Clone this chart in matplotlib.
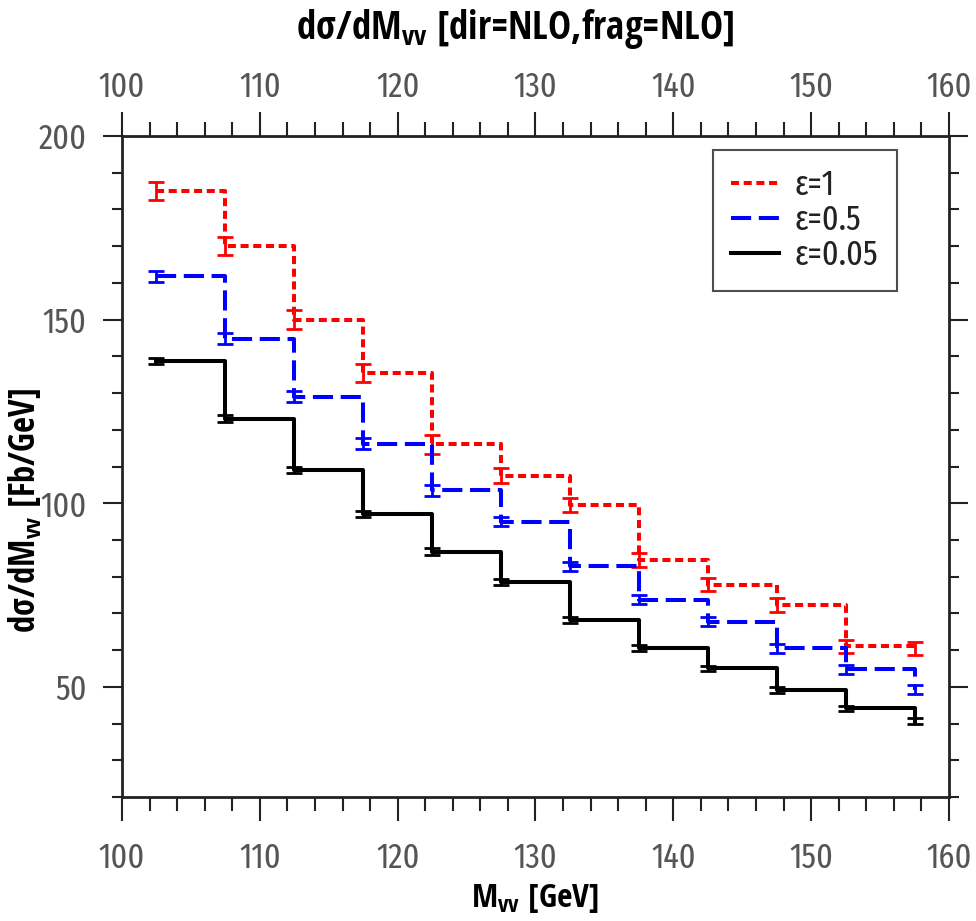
import numpy as np
import matplotlib
matplotlib.use("Agg")
import matplotlib.pyplot as plt
import matplotlib.transforms as mtransforms
from matplotlib.ticker import MultipleLocator

plt.rcParams["font.family"] = ["Fira Sans Extra Condensed", "Open Sans", "DejaVu Sans"]
plt.rcParams["mathtext.fontset"] = "custom"
plt.rcParams["mathtext.bf"] = "Open Sans Condensed:bold"

# bin centres [GeV]
m_centres = [102.5, 107.5, 112.5, 117.5, 122.5, 127.5, 132.5, 137.5, 142.5, 147.5, 152.5, 157.5]

# eps = 1
red_y = [185, 170, 150, 135.5, 116, 107.5, 99.5, 84.5, 77.8, 72.3, 61, 60.4]
red_err = [2.5, 2.5, 2.5, 2.5, 2.5, 2, 2, 2, 1.8, 1.8, 1.8, 1.8]
# eps = 0.5
blue_y = [161.8, 144.8, 129, 116.2, 103.5, 95, 82.8, 73.7, 67.7, 60.5, 54.8, 49.2]
blue_err = [1.5, 1.5, 1.5, 1.5, 1.5, 1.3, 1.3, 1.2, 1.2, 1.2, 1.2, 1.2]
# eps = 0.05
black_y = [138.7, 123, 109, 97.1, 86.8, 78.6, 68.3, 60.6, 55, 49.1, 44.1, 40.8]
black_err = [0.9, 0.9, 0.9, 0.9, 0.9, 0.9, 0.8, 0.8, 0.8, 0.8, 0.8, 0.8]

labels = ["ε=1", "ε=0.5", "ε=0.05"]

W, H = 976, 921
fig = plt.figure(figsize=(W / 100, H / 100), dpi=100)
# frame: x 122..949 px, y 136..797 px
ax = fig.add_axes([122 / W, 1 - 797 / H, 827 / W, 661 / H])

ax.plot(m_centres, red_y, drawstyle="steps-post", color="red", lw=2.9,
        dashes=(2.0, 1.15), label=labels[0])
ax.errorbar(m_centres, red_y, yerr=red_err, fmt="none", ecolor="red",
            elinewidth=2, capsize=5.8, capthick=2)
ax.plot(m_centres, blue_y, drawstyle="steps-post", color="blue", lw=2.9,
        dashes=(5, 1.9), label=labels[1])
ax.errorbar(m_centres, blue_y, yerr=blue_err, fmt="none", ecolor="blue",
            elinewidth=2, capsize=5.8, capthick=2)
ax.plot(m_centres, black_y, drawstyle="steps-post", color="black", lw=2.9,
        label=labels[2])
ax.errorbar(m_centres, black_y, yerr=black_err, fmt="none", ecolor="black",
            elinewidth=2, capsize=5.8, capthick=2)

ax.set_xlim(100, 160)
ax.set_ylim(20, 200)
ax.xaxis.set_major_locator(MultipleLocator(10))
ax.xaxis.set_minor_locator(MultipleLocator(2))
ax.yaxis.set_major_locator(MultipleLocator(50))
ax.yaxis.set_minor_locator(MultipleLocator(10))
ax.tick_params(which="both", direction="out", top=True, right=True,
               labeltop=True, labelright=False, colors="#222222",
               labelcolor="#555555", labelsize=25, width=1.5)
ax.tick_params(axis="x", which="major", length=17, pad=15)
ax.tick_params(axis="x", which="minor", length=10)
ax.tick_params(axis="y", which="major", length=14, pad=11.5)
ax.tick_params(axis="y", which="minor", length=7.5)
for s in ax.spines.values():
    s.set_linewidth(2)
    s.set_color("#222222")

# top tick labels sit closer to the frame than the bottom ones
off = mtransforms.ScaledTranslation(0, -9.2 / 72, fig.dpi_scale_trans)
for tk in ax.xaxis.get_major_ticks():
    tk.label2.set_transform(tk.label2.get_transform() + off)

fig.text(534.5 / W, 1 - 898 / H, r"M$_{\mathbf{vv}}$ [GeV]", ha="center", va="center",
         fontsize=24, fontweight="bold", family="Open Sans Condensed")
fig.text(26 / W, 1 - 511 / H, r"dσ/dM$_{\mathbf{vv}}$ [Fb/GeV]", ha="center", va="center",
         rotation=90, fontsize=25, fontweight="bold", family="Open Sans Condensed")
fig.text(515 / W, 1 - 29 / H, r"dσ/dM$_{\mathbf{vv}}$ [dir=NLO,frag=NLO]", ha="center",
         va="center", fontsize=28, fontweight="bold", family="Open Sans Condensed")

leg = ax.legend(loc="upper left", bbox_to_anchor=((713 - 122) / 827, (797 - 150) / 661),
                borderaxespad=0, fontsize=25, frameon=True, fancybox=False,
                edgecolor="#222222", handlelength=1.38, borderpad=0.52,
                labelspacing=0.04, handletextpad=0.46)
leg.get_frame().set_linewidth(1.5)
for t in leg.get_texts():
    t.set_color("#222222")

fig.savefig("out.png", dpi=100)
